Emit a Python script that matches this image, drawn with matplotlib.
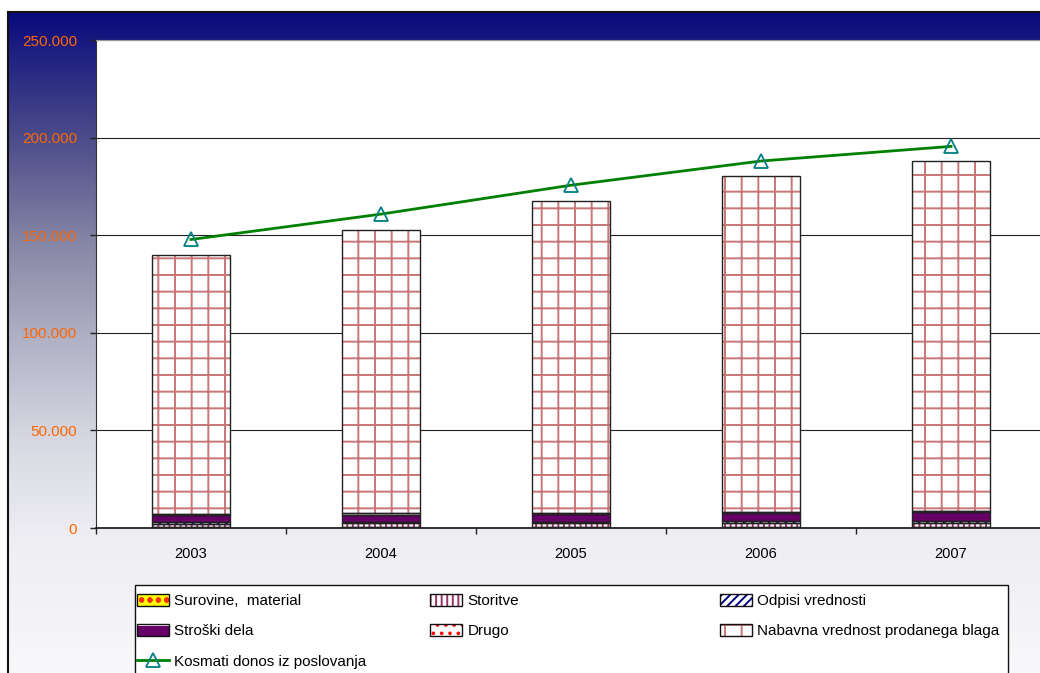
import matplotlib
matplotlib.use("Agg")
import matplotlib.pyplot as plt
import numpy as np
from matplotlib.colors import LinearSegmentedColormap
from matplotlib.patches import Patch, Rectangle
from matplotlib.lines import Line2D
from matplotlib.ticker import FuncFormatter, FixedLocator

plt.rcParams['font.family'] = ['Liberation Sans', 'DejaVu Sans']
plt.rcParams['hatch.linewidth'] = 1.4

# data (thousands of EUR)
years = ['2003', '2004', '2005', '2006', '2007']
surovine = [300, 300, 300, 350, 350]
storitve = [2000, 2100, 2200, 2300, 2400]
odpisi = [600, 600, 700, 700, 900]
stroski_dela = [3800, 3900, 4100, 4300, 4600]
drugo = [600, 600, 600, 700, 700]
nabavna = [132700, 145000, 159400, 172100, 179000]
kosmati = [147800, 160800, 175600, 188000, 195500]

names = ['Surovine,  material', 'Storitve', 'Odpisi vrednosti',
         'Stroški dela', 'Drugo', 'Nabavna vrednost prodanega blaga']
series = [surovine, storitve, odpisi, stroski_dela, drugo, nabavna]
# (face, hatch, hatch colour)
styles = [('#ffff00', 'oo', '#ff3300'),
          ('white', '|||', '#993366'),
          ('white', '////', '#000080'),
          ('#660066', '-', 'white'),
          ('white', '..', '#ff0000'),
          ('white', '+', '#c77777')]

W, H = 1040, 673
fig = plt.figure(figsize=(W / 100, H / 100), dpi=100)
fig.patch.set_facecolor('white')

# gradient background
bg = fig.add_axes([8 / W, 0, 1 - 8 / W, (H - 12) / H], zorder=-2)
stops = [(0.0, '#0a0a7c'), (0.05, '#1c1c80'), (0.2, '#50508c'),
         (0.36, '#8a8aa8'), (0.5, '#b2b2c7'), (0.65, '#d8d8e2'),
         (0.8, '#eeeef3'), (1.0, '#f8f8fa')]
cmap = LinearSegmentedColormap.from_list('bg', stops)
grad = np.linspace(0, 1, 400).reshape(-1, 1)
bg.imshow(grad, aspect='auto', cmap=cmap, extent=[0, 1, 0, 1], origin='upper')
bg.set_xticks([])
bg.set_yticks([])
for s in ['right', 'bottom']:
    bg.spines[s].set_visible(False)
for s in ['left', 'top']:
    bg.spines[s].set_color('#111111')
    bg.spines[s].set_linewidth(1.5)

ax = fig.add_axes([96 / W, 145 / H, 950 / W, 488 / H])
ax.set_facecolor('white')
x = np.arange(len(years))
bw = 0.41
bottom = np.zeros(len(years))
for vals, (fc, hatch, hc) in zip(series, styles):
    ax.bar(x, vals, bw, bottom=bottom, color=fc, hatch=hatch,
           edgecolor=hc, linewidth=0, zorder=2)
    ax.bar(x, vals, bw, bottom=bottom, fill=False, edgecolor='#222222',
           linewidth=1.0, zorder=3)
    bottom += np.array(vals)

ax.plot(x, kosmati, color='#008000', lw=2, marker='^', ms=10,
        mfc='none', mec='#008080', mew=1.3, zorder=4)

ax.set_xlim(-0.5, 4.5)
ax.set_ylim(0, 250000)
ax.set_yticks(np.arange(0, 250001, 50000))
ax.yaxis.set_major_formatter(FuncFormatter(lambda v, p: f"{int(v):,}".replace(',', '.')))
ax.tick_params(axis='y', colors='#222222', length=4.5, width=1, labelsize=11,
               labelcolor='#ff6600', pad=9)
ax.set_xticks(x, years)
ax.tick_params(axis='x', which='major', length=0, labelsize=10.5, pad=14)
ax.xaxis.set_minor_locator(FixedLocator([-0.5, 0.5, 1.5, 2.5, 3.5]))
ax.tick_params(axis='x', which='minor', length=4.5, width=1, color='#222222')
ax.yaxis.grid(True, color='#222222', lw=0.8)
ax.set_axisbelow(True)
ax.spines['right'].set_visible(False)
ax.spines['top'].set_color('#999999')
ax.spines['left'].set_color('#333333')
ax.spines['bottom'].set_color('#111111')
ax.spines['bottom'].set_linewidth(1.2)

# legend frame
fig.patches.append(Rectangle((135 / W, -0.01), (1008 - 135) / W, (H - 585) / H + 0.01,
                             transform=fig.transFigure, facecolor='white',
                             edgecolor='#111111', lw=1, zorder=1))

handles = []
for (fc, hatch, hc) in styles:
    handles.append((Patch(facecolor=fc, hatch=hatch, edgecolor=hc, lw=0),
                    Patch(fill=False, edgecolor='#111111', lw=1)))
line_h = Line2D([], [], color='#008000', lw=2, marker='^', ms=10,
                mfc='none', mec='#008080', mew=1.3)

cols = [([handles[0], handles[3], line_h], [names[0], names[3], 'Kosmati donos iz poslovanja'], 137),
        ([handles[1], handles[4]], [names[1], names[4]], 430),
        ([handles[2], handles[5]], [names[2], names[5]], 720)]
for hs, ls, px in cols:
    leg = fig.legend(hs, ls, loc='upper left', bbox_to_anchor=(px / W, (H - 594) / H),
                     frameon=False, fontsize=11, handlelength=2.1, handleheight=0.8,
                     handletextpad=0.35, labelspacing=1.05, borderpad=0, borderaxespad=0)
    leg.set_zorder(5)

fig.savefig('out.png', dpi=100)
